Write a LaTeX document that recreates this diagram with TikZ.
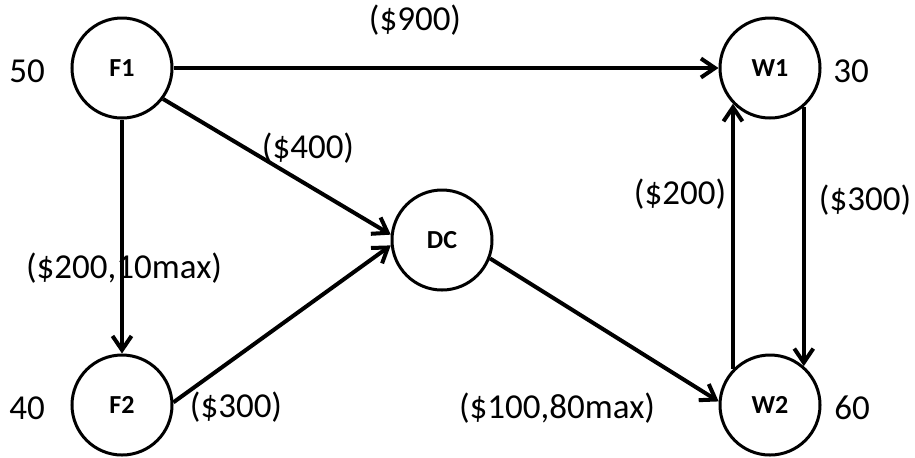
\documentclass[tikz,border=0pt]{standalone}
\usepackage{fontspec}
\setmainfont{Carlito}
\usetikzlibrary{arrows.meta}
\begin{document}
\begin{tikzpicture}[x=0.5pt,y=-0.5pt,
  stn/.style={circle,draw,line width=1.5pt,minimum size=50pt,inner sep=0pt,font=\fontsize{13}{15}\selectfont\bfseries},
  arr/.style={line width=2pt,-{Straight Barb[length=7pt,width=9.5pt,line width=2pt]}},
  lbl/.style={font=\fontsize{17.5}{20}\selectfont,inner sep=0pt}]
\useasboundingbox (0,0) rectangle (915,457);
\node[stn] (F1) at (122,68) {F1};
\node[stn] (W1) at (770,68) {W1};
\node[stn] (DC) at (442,240) {DC};
\node[stn] (F2) at (122,405) {F2};
\node[stn] (W2) at (770,405) {W2};
\draw[arr] (F1) -- (W1);
\draw[arr] (F1) -- (F2);
\draw[arr] (F1.-37) -- (DC.174);
\draw[arr] (F2.3) -- (DC.186);
\draw[arr] (DC.-21) -- (W2.176);
\draw[arr] (W2.136) -- (W1.-136);
\draw[arr] (W1.-49) -- (W2.49);
\node[lbl] (n50) at (27,71) {50};
\node[lbl] (n30) at (851,71) {30};
\node[lbl] (n40) at (27,408) {40};
\node[lbl] (n60) at (852,408) {60};
\node[lbl] (c900) at (415,20) {(\$900)};
\node[lbl] (c400) at (308,148) {(\$400)};
\node[lbl] (c200a) at (124,268) {(\$200,10max)};
\node[lbl] (c300a) at (236,407) {(\$300)};
\node[lbl] (c100) at (557,408) {(\$100,80max)};
\node[lbl] (c200b) at (680,194) {(\$200)};
\node[lbl] (c300b) at (865,200) {(\$300)};
\end{tikzpicture}
\end{document}
